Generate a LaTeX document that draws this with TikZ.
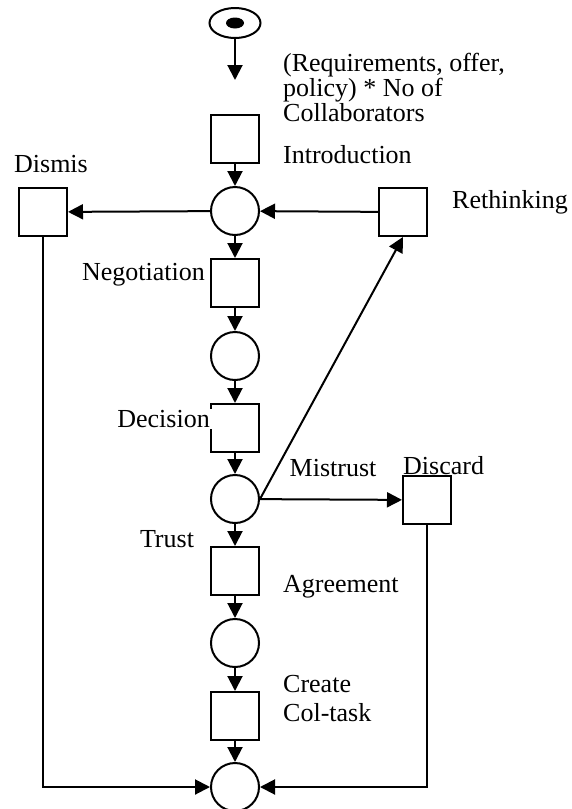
\documentclass[tikz,border=0pt]{standalone}
\usepackage{fontspec}
\setmainfont{Liberation Serif}
\usetikzlibrary{arrows.meta,shapes.geometric}
\begin{document}
\begin{tikzpicture}[x=1pt,y=-1pt,
  every node/.style={font=\fontsize{26}{25}\selectfont},
  trans/.style={draw,line width=2pt,minimum size=48pt,inner sep=0pt},
  place/.style={draw,circle,line width=2pt,minimum size=48pt,inner sep=0pt},
  lbl/.style={inner sep=0pt},
  arc/.style={line width=2pt,-{Triangle[length=15pt,width=15pt]}}]
\useasboundingbox (0,0) rectangle (572,809);
% nodes
\node[draw,ellipse,line width=2pt,minimum width=51pt,minimum height=30pt,inner sep=0pt] (start) at (235,23) {};
\node[ellipse,fill=black,minimum width=18pt,minimum height=11pt,inner sep=0pt] (token) at (235,23) {};
\coordinate (tip) at (235,80);
\node[trans] (intro) at (235,139) {};
\node[place] (p1) at (235,211) {};
\node[trans] (dismis) at (43,212) {};
\node[trans] (rethink) at (403,212) {};
\node[trans] (neg) at (235,283) {};
\node[place] (p2) at (235,356) {};
\node[trans] (decision) at (235,428) {};
\node[place] (p3) at (235,499) {};
\node[trans] (discard) at (427,500) {};
\node[trans] (agree) at (235,571) {};
\node[place] (p4) at (235,643) {};
\node[trans] (create) at (235,716) {};
\node[place] (p5) at (235,787) {};
% labels
\node[lbl,anchor=north west,align=left] (req) at (283,53) {(Requirements, offer,\\policy) * No of\\Collaborators};
\node[lbl,anchor=west] (lintro) at (283,155) {Introduction};
\node[lbl] (ldismis) at (51,164) {Dismis};
\node[lbl,anchor=west] (lreth) at (452,202) {Rethinking};
\node[lbl,anchor=east] (lneg) at (205,275) {Negotiation};
\node[lbl,anchor=east,fill=white,inner xsep=2pt,inner ysep=1pt] (ldec) at (212,419) {Decision};
\node[lbl] (lmis) at (333,468) {Mistrust};
\node[lbl,anchor=west] (ldisc) at (403,466) {Discard};
\node[lbl] (ltrust) at (167,539) {Trust};
\node[lbl,anchor=west] (lagree) at (283,587) {Agreement};
\node[lbl,anchor=west] (lcreate) at (283,684) {Create};
\node[lbl,anchor=west] (lcol) at (283,713) {Col-task};
% arcs
\draw[arc] (start.south) -- (tip);
\draw[arc] (intro) -- (p1);
\draw[arc] (p1) -- (dismis);
\draw[arc] (rethink) -- (p1);
\draw[arc] (p1) -- (neg);
\draw[arc] (neg) -- (p2);
\draw[arc] (p2) -- (decision);
\draw[arc] (decision) -- (p3);
\draw[arc] (p3.east) -- (rethink.south);
\draw[arc] (p3) -- (discard);
\draw[arc] (p3) -- (agree);
\draw[arc] (agree) -- (p4);
\draw[arc] (p4) -- (create);
\draw[arc] (create) -- (p5);
\draw[arc] (dismis.south) |- (p5.west);
\draw[arc] (discard.south) |- (p5.east);
\end{tikzpicture}
\end{document}
